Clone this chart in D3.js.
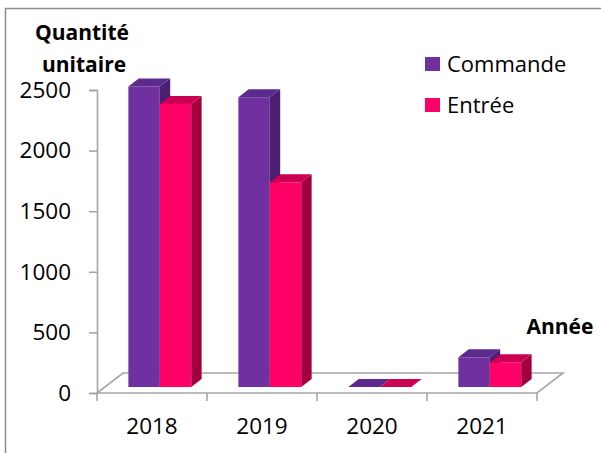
<!DOCTYPE html>
<html>
<head>
<meta charset="utf-8">
<script src="https://cdn.jsdelivr.net/npm/d3@7"></script>
<style>
  html, body { margin: 0; padding: 0; background: #fff; }
  svg { display: block; }
  text { font-family: "Open Sans", "Liberation Sans", sans-serif; fill: #000; }
</style>
</head>
<body>
<svg id="chart" width="601" height="453"></svg>
<script>
// Annual quantities ordered vs received
const categories = ["2018", "2019", "2020", "2021"];
const seriesNames = ["Commande", "Entrée"];
const commande = [2480, 2390, 0, 245];
const entree = [2335, 1690, 0, 205];
const yTicks = [0, 500, 1000, 1500, 2000, 2500];

const colors = {
  "Commande": { front: "#7030A0", top: "#5C2A8C", side: "#4A1F72" },
  "Entrée":   { front: "#FF0066", top: "#CC0052", side: "#A2003F" }
};

const svg = d3.select("#chart");

// frame of the chart area
svg.append("path")
  .attr("d", "M5.5,460 V8.5 H610")
  .attr("fill", "none")
  .attr("stroke", "#8c8c8c")
  .attr("stroke-width", 1.5);

// oblique 3D projection: depth offset of the floor
const depthX = 26, depthY = -20;
const barD0 = 0.3, barD1 = 0.7;

const x = d3.scaleBand().domain(categories).range([97, 537]).paddingInner(0).paddingOuter(0);
const xs = d3.scaleBand().domain(seriesNames).range([0, x.bandwidth()]).paddingInner(0).paddingOuter(0.75);
const y = d3.scaleLinear().domain([0, 2500]).range([393, 90]);

const proj = (px, v, d) => [px + d * depthX, y(v) + d * depthY];

// floor
const floorPts = [proj(97, 0, 0), proj(537, 0, 0), proj(537, 0, 1), proj(97, 0, 1)];
svg.append("path")
  .attr("d", d3.line()(floorPts) + "Z")
  .attr("fill", "none")
  .attr("stroke", "#a6a6a6")
  .attr("stroke-width", 1.6);

// value axis
const yAxis = d3.axisLeft(y).tickValues(yTicks).tickSize(8).tickPadding(18).tickFormat(d3.format("d"));
const gy = svg.append("g").attr("transform", "translate(97,0)").call(yAxis);
gy.select(".domain").attr("stroke", "#a6a6a6").attr("stroke-width", 1.6);
gy.selectAll(".tick line").attr("stroke", "#a6a6a6").attr("stroke-width", 1.6);
gy.selectAll(".tick text").style("font-size", "22.5px").style("font-family", "'Open Sans', sans-serif").attr("fill", "#000");

// category axis
const xAxis = d3.axisBottom(x).tickSize(0).tickPadding(25);
const gx = svg.append("g").attr("transform", "translate(0,393)").call(xAxis);
gx.select(".domain").remove();
gx.selectAll(".tick text").style("font-size", "22.5px").style("font-family", "'Open Sans', sans-serif").attr("fill", "#000");
const edges = categories.map(c => x(c)).concat([x(categories[categories.length - 1]) + x.bandwidth()]);
svg.append("g").selectAll("line").data(edges).join("line")
  .attr("x1", d => d).attr("x2", d => d)
  .attr("y1", 393).attr("y2", 401)
  .attr("stroke", "#a6a6a6").attr("stroke-width", 1.6);

// bars
const rows = categories.map((c, i) => ({ cat: c, values: [commande[i], entree[i]] }));
const gBars = svg.append("g");
rows.forEach(r => {
  seriesNames.forEach((s, j) => {
    const v = r.values[j];
    const x0 = x(r.cat) + xs(s);
    const x1 = x0 + xs.bandwidth();
    const c = colors[s];
    const poly = pts => d3.line()(pts) + "Z";
    const g = gBars.append("g");
    if (v > 0) {
      g.append("path")
        .attr("d", poly([proj(x0, 0, barD0), proj(x1, 0, barD0), proj(x1, v, barD0), proj(x0, v, barD0)]))
        .attr("fill", c.front);
      g.append("path")
        .attr("d", poly([proj(x1, 0, barD0), proj(x1, 0, barD1), proj(x1, v, barD1), proj(x1, v, barD0)]))
        .attr("fill", c.side);
    }
    g.append("path")
      .attr("d", poly([proj(x0, v, barD0), proj(x1, v, barD0), proj(x1, v, barD1), proj(x0, v, barD1)]))
      .attr("fill", c.top);
  });
});

// axis titles
svg.append("text").attr("x", 82).attr("y", 40).attr("text-anchor", "middle")
  .style("font-size", "21px").style("font-weight", "bold").text("Quantité");
svg.append("text").attr("x", 84).attr("y", 72).attr("text-anchor", "middle")
  .style("font-size", "21px").style("font-weight", "bold").text("unitaire");
svg.append("text").attr("x", 560).attr("y", 334).attr("text-anchor", "middle")
  .style("font-size", "21px").style("font-weight", "bold").text("Année");

// legend
const legend = svg.append("g").selectAll("g").data(seriesNames).join("g")
  .attr("transform", (d, i) => `translate(425,${57 + i * 41})`);
legend.append("rect").attr("width", 15).attr("height", 14).attr("fill", d => colors[d].front);
legend.append("text").attr("x", 22).attr("y", 14.5).style("font-size", "22px").text(d => d);
</script>
</body>
</html>
